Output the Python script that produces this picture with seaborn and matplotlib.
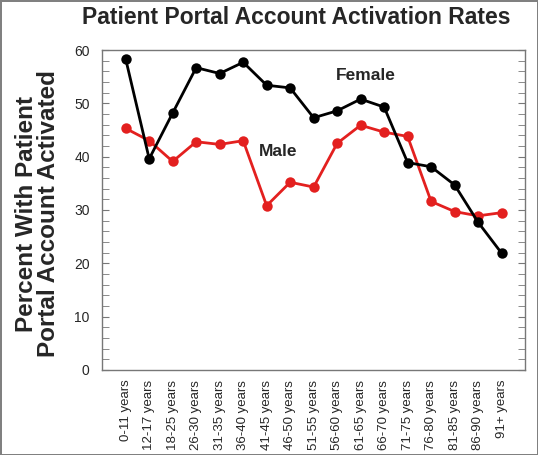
import pandas as pd
import seaborn as sns
import matplotlib.pyplot as plt
from matplotlib.ticker import MultipleLocator

age_groups = ["0-11 years", "12-17 years", "18-25 years", "26-30 years", "31-35 years",
              "36-40 years", "41-45 years", "46-50 years", "51-55 years", "56-60 years",
              "61-65 years", "66-70 years", "71-75 years", "76-80 years", "81-85 years",
              "86-90 years", "91+ years"]
female = [58.3, 39.6, 48.2, 56.7, 55.6, 57.7, 53.4, 52.9, 47.3, 48.6,
          50.8, 49.3, 38.9, 38.1, 34.7, 27.7, 21.9]
male = [45.3, 43.0, 39.1, 42.8, 42.3, 43.0, 30.8, 35.2, 34.3, 42.5,
        45.9, 44.6, 43.8, 31.6, 29.7, 28.9, 29.5]

df = pd.DataFrame({
    "age": age_groups * 2,
    "pct": male + female,
    "sex": ["Male"] * len(male) + ["Female"] * len(female),
})

sns.set_style("white")
plt.rcParams['font.family'] = ['Liberation Sans', 'DejaVu Sans']

fig = plt.figure(figsize=(5.38, 4.55), dpi=100, edgecolor='#808080', linewidth=2)
ax = fig.add_axes([0.19, 0.187, 0.786, 0.703])

sns.lineplot(data=df, x="age", y="pct", hue="sex", sort=False,
             palette={"Male": "#e3201f", "Female": "black"},
             marker="o", markersize=7.5, markeredgewidth=0, linewidth=2,
             legend=False, ax=ax)

ax.set_xlim(-1, 17)
ax.set_ylim(0, 60)
ax.yaxis.set_major_locator(MultipleLocator(10))
ax.yaxis.set_minor_locator(MultipleLocator(2))
ax.tick_params(axis='y', which='both', direction='in', length=5, color='#777777',
               left=True, right=True, labelsize=10, pad=9)
ax.tick_params(axis='x', length=0, labelsize=9.5, pad=7)
plt.setp(ax.get_xticklabels(), rotation=90)
for s in ax.spines.values():
    s.set_color('#777777')
    s.set_linewidth(1)

ax.set_xlabel("")
ax.set_ylabel("")
ax.text(10.2, 55.3, "Female", fontsize=12.5, fontweight='bold', ha='center', va='center')
ax.text(6.5, 40.9, "Male", fontsize=12.5, fontweight='bold', ha='center', va='center')

fig.text(0.551, 0.962, "Patient Portal Account Activation Rates", fontsize=16.5,
         fontweight='bold', ha='center', va='center')
fig.text(0.07, 0.53, "Percent With Patient\nPortal Account Activated", fontsize=17.5,
         fontweight='bold', ha='center', va='center', rotation=90,
         multialignment='center', linespacing=0.95)

plt.savefig("out.png", dpi=100)
